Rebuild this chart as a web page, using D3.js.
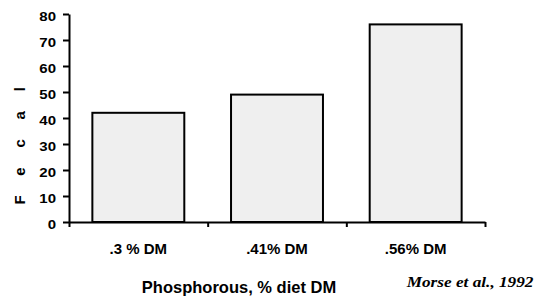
<!DOCTYPE html>
<html>
<head>
<meta charset="utf-8">
<script src="https://cdn.jsdelivr.net/npm/d3@7"></script>
<style>
  body { margin: 0; background: #fff; }
  text { font-family: "Liberation Sans", Arial, sans-serif; font-weight: bold; fill: #000; }
</style>
</head>
<body>
<svg id="chart" width="543" height="298"></svg>
<script>
// Fecal P vs dietary phosphorous (Morse et al., 1992)
const categories = [".3 % DM", ".41% DM", ".56% DM"];
const values = [42, 49, 76];
const yTicks = [0, 10, 20, 30, 40, 50, 60, 70, 80];

const svg = d3.select("#chart");
const plotLeft = 69, plotRight = 485, plotTop = 14, plotBottom = 222;

const x = d3.scaleBand()
  .domain(categories)
  .range([plotLeft, plotRight])
  .paddingInner(0.337)
  .paddingOuter(0.337 / 2);

const xEdges = d3.scaleLinear().domain([0, categories.length]).range([plotLeft, plotRight]);

const y = d3.scaleLinear().domain([0, 80]).range([plotBottom, plotTop]);

// bars
svg.append("g")
  .selectAll("rect")
  .data(values)
  .join("rect")
  .attr("x", (d, i) => x(categories[i]))
  .attr("y", (d) => y(d))
  .attr("width", x.bandwidth())
  .attr("height", (d) => y(0) - y(d))
  .attr("fill", "#efefef")
  .attr("stroke", "#000")
  .attr("stroke-width", 2);

// y axis
const gy = svg.append("g")
  .attr("transform", `translate(${plotLeft},0)`)
  .call(d3.axisLeft(y).tickValues(yTicks).tickSize(6).tickSizeOuter(0));
gy.selectAll("path, line").attr("stroke", "#000").attr("stroke-width", 2);
gy.selectAll("text")
  .attr("x", null)
  .attr("dy", null)
  .attr("transform", "translate(-13,6.3) scale(1.25,1)")
  .style("font-size", "12px")
  .style("font-family", "'Liberation Sans', Arial, sans-serif")
  .style("font-weight", "bold");

// x axis line with ticks at category edges
const gx = svg.append("g")
  .attr("transform", `translate(0,${plotBottom})`)
  .call(d3.axisBottom(xEdges).tickValues(d3.range(categories.length + 1)).tickFormat("").tickSize(5).tickSizeOuter(0));
gx.selectAll("path, line").attr("stroke", "#000").attr("stroke-width", 2);

// category labels
svg.append("g")
  .selectAll("text")
  .data(categories)
  .join("text")
  .attr("x", (d) => x(d) + x.bandwidth() / 2)
  .attr("y", 254)
  .attr("text-anchor", "middle")
  .style("font-size", "15px")
  .text((d) => d);

// axis titles
svg.append("text")
  .attr("x", 239)
  .attr("y", 292.7)
  .attr("text-anchor", "middle")
  .style("font-size", "16.5px")
  .text("Phosphorous, % diet DM");

svg.append("text")
  .attr("transform", "translate(25,204.6) rotate(-90)")
  .style("font-size", "15px")
  .style("letter-spacing", "7.8px")
  .text("F e c a l");

svg.append("text")
  .attr("transform", "translate(406.7,286.7) scale(1.23,1)")
  .style("font-family", "'Liberation Serif', 'Times New Roman', serif")
  .style("font-style", "italic")
  .style("font-size", "14px")
  .text("Morse et al., 1992");
</script>
</body>
</html>
